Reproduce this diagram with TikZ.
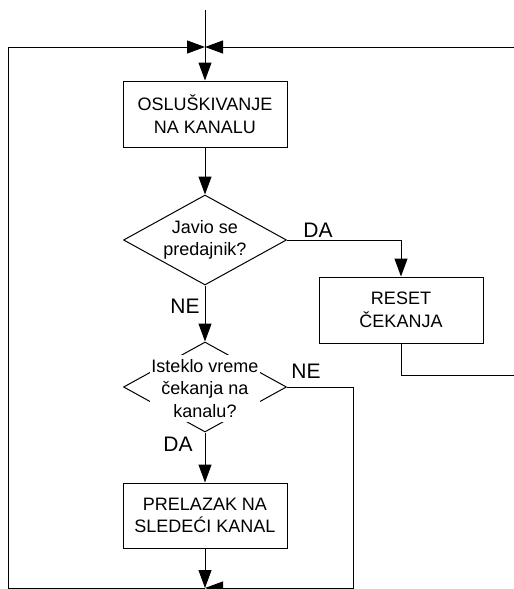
\documentclass[tikz,border=0pt]{standalone}
\usepackage{fontspec}
\setmainfont{Liberation Sans}
\usetikzlibrary{shapes.geometric,arrows.meta}
\begin{document}
\begin{tikzpicture}[x=1pt,y=-1pt,
  every node/.style={font=\fontsize{18}{22.5}\selectfont},
  flow/.style={line width=1pt},
  arr/.style={flow,-{Triangle[length=18pt,width=13pt]}},
  procbox/.style={draw,line width=1pt,minimum width=164pt,minimum height=66pt,align=center,inner sep=0pt},
  decision/.style={draw,diamond,line width=1pt,aspect=1.8,minimum width=163pt,minimum height=90pt,align=center,inner sep=0pt},
  answer/.style={inner sep=0pt,font=\fontsize{21}{25}\selectfont},
  overtext/.style={fill=white,inner sep=0pt,minimum width=110pt,minimum height=67pt,align=center}]
\useasboundingbox (0,0) rectangle (514,589);

% entry and loop junction points
\coordinate (start) at (205,10);
\coordinate (top) at (205,47);
\coordinate (tl) at (8,47);
\coordinate (tr) at (514,47);
\coordinate (bl) at (8,588);
\coordinate (bot) at (205,588);
\coordinate (br) at (353,588);
\coordinate (rout) at (514,375);

% blocks
\node[procbox] (listen) at (205,114) {OSLUŠKIVANJE\\NA KANALU};
\node[decision] (q1) at (205,240) {Javio se\\predajnik?};
\node[procbox] (reset) at (401,310) {RESET\\ČEKANJA};
\node[decision] (q2) at (205,387) {};
\node[overtext] (q2t) at (205,388.5) {Isteklo vreme\\čekanja na\\kanalu?};
\node[procbox,minimum height=65pt] (next) at (205,515.5) {PRELAZAK NA\\SLEDEĆI KANAL};

% answer labels
\node[answer] (da1) at (318,230) {DA};
\node[answer] (ne1) at (185,306) {NE};
\node[answer] (ne2) at (306,371) {NE};
\node[answer] (da2) at (178,444) {DA};

% connectors
\draw[arr] (start) -- (listen.north);
\draw[arr] (tl) -- (top);
\draw[arr] (tr) -- (top);
\draw[arr] (listen.south) -- (q1.north);
\draw[arr] (q1.east) -| (reset.north);
\draw[flow] (reset.south) |- (rout);
\draw[arr] (q1.south) -- (q2.north);
\draw[arr] (q2.south) -- (next.north);
\draw[arr] (next.south) -- (bot);
\draw[arr] (q2.east) -| (br) -- (bot);
\draw[flow] (bot) -- (bl) -- (tl);
\end{tikzpicture}
\end{document}
